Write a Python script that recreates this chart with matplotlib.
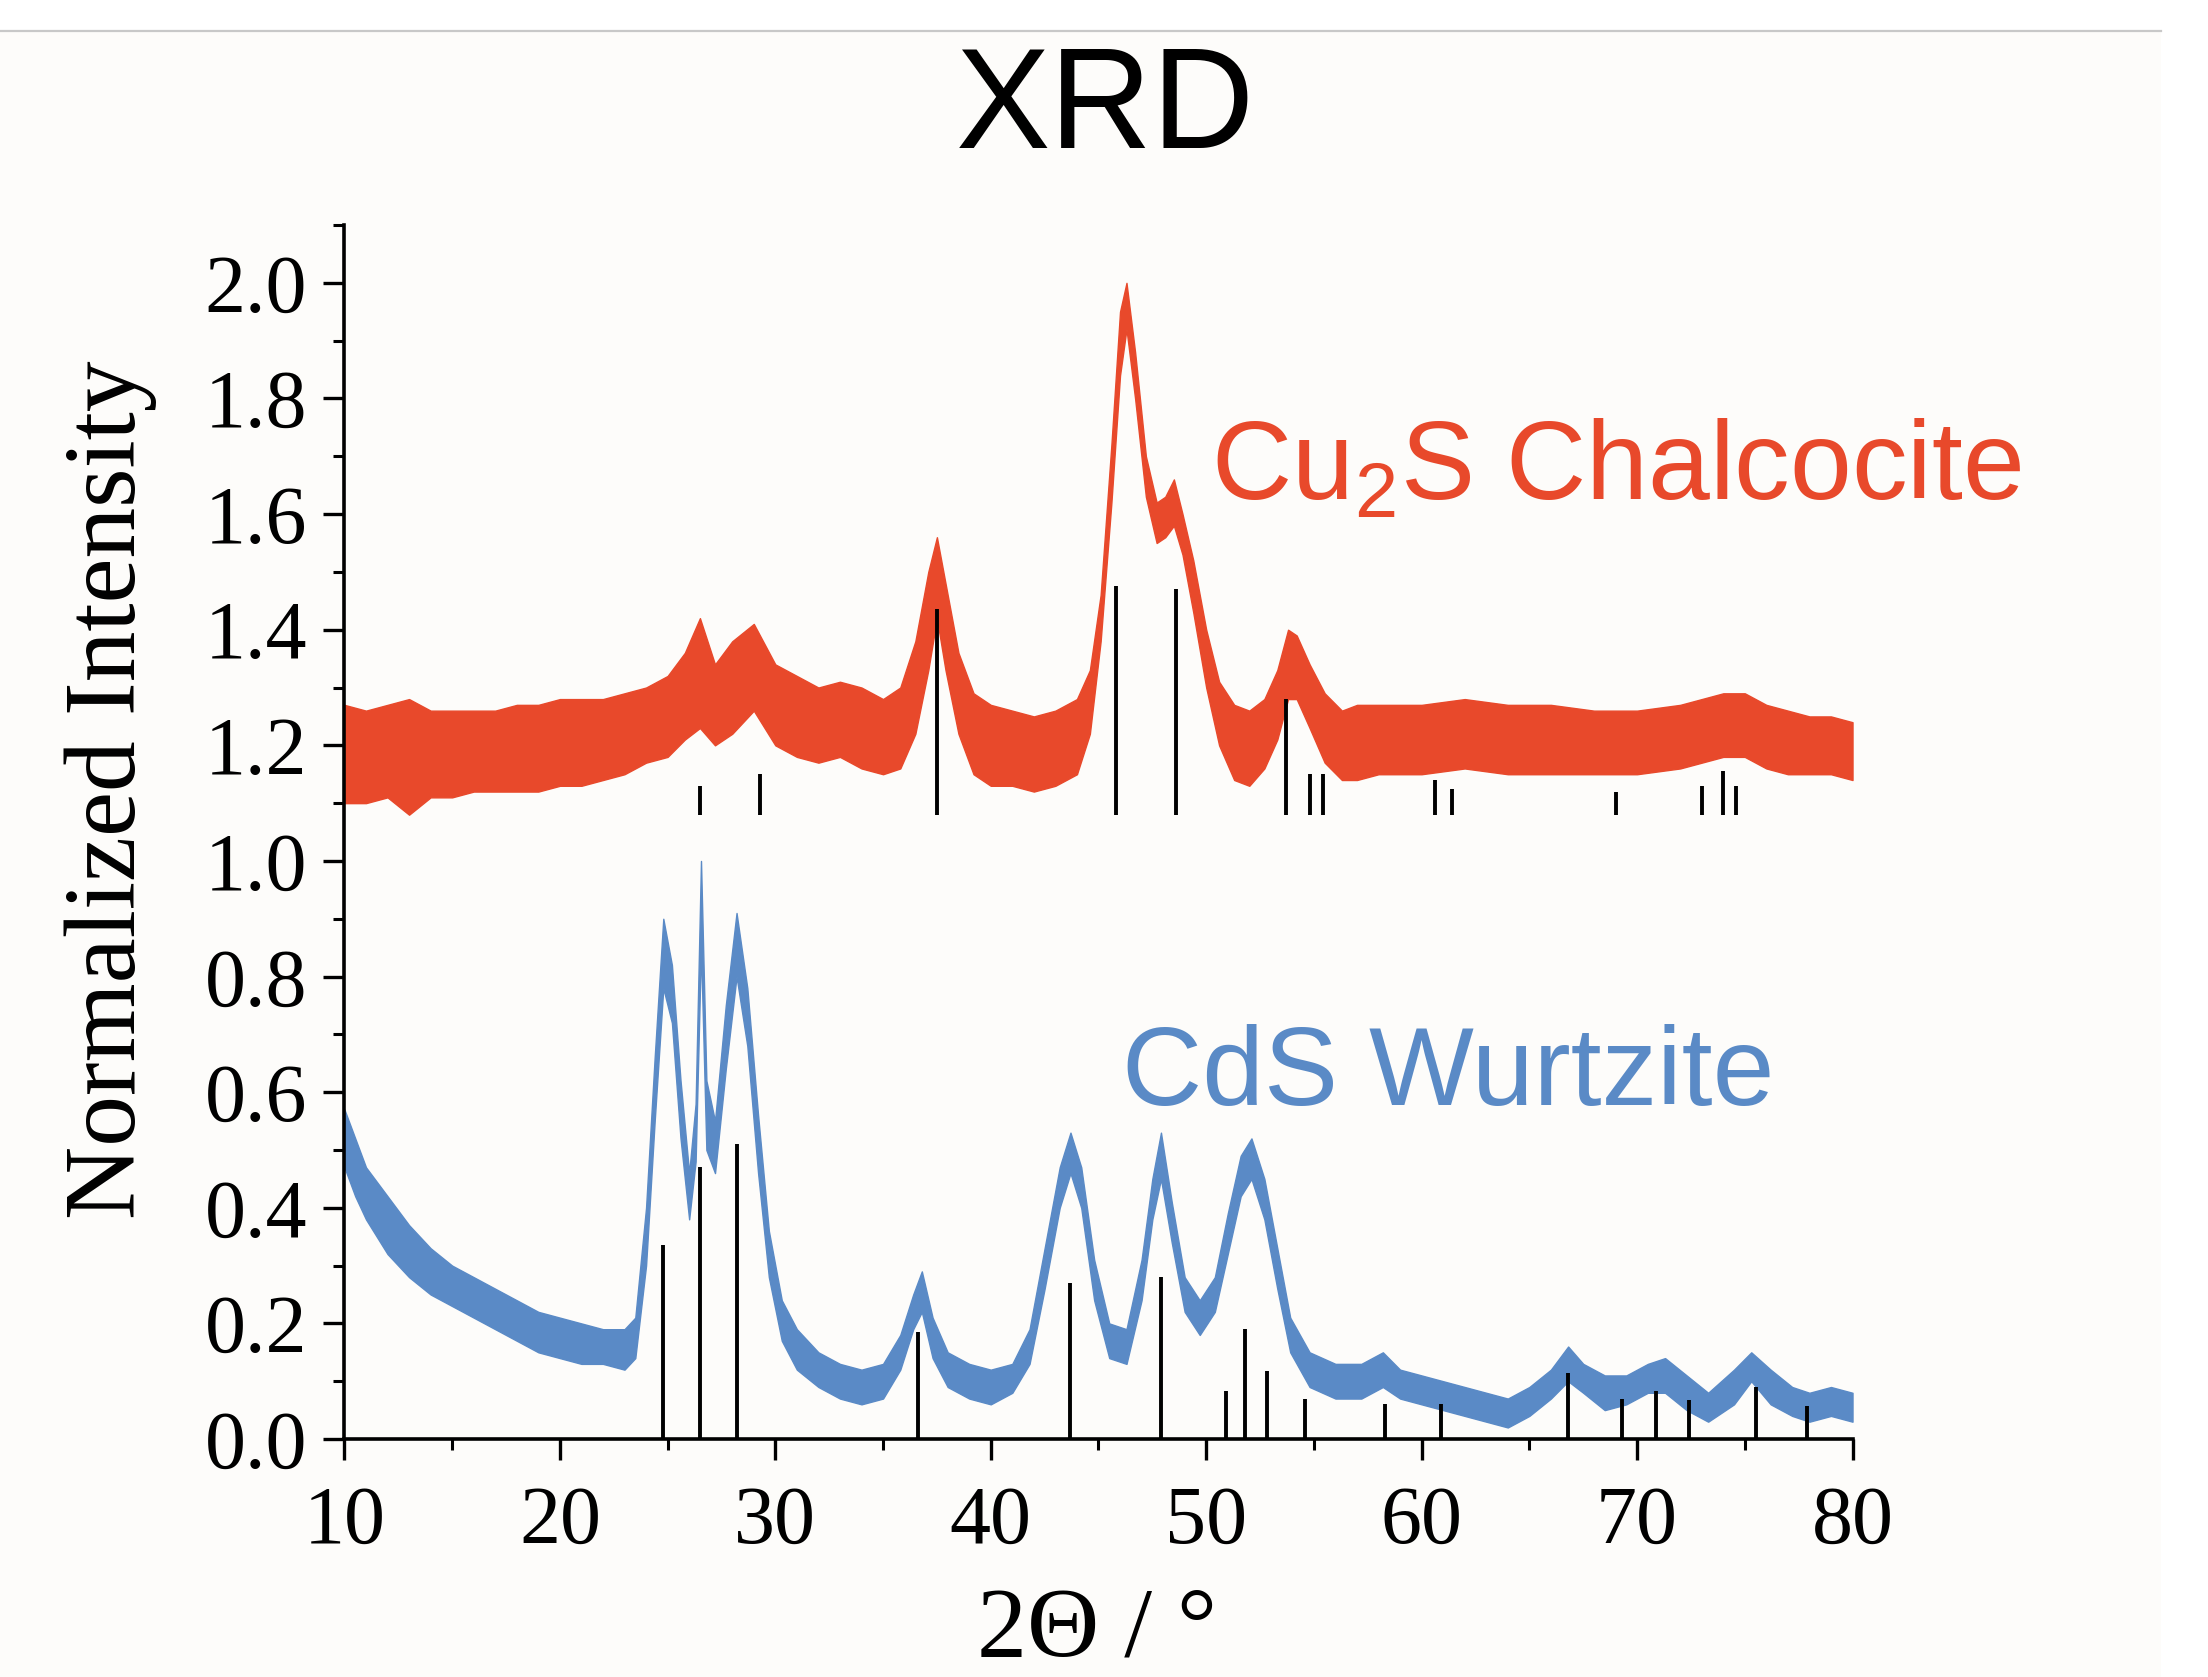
import matplotlib
matplotlib.use("Agg")
import matplotlib.pyplot as plt
from matplotlib.patches import Rectangle
from matplotlib.lines import Line2D
from matplotlib.ticker import MultipleLocator

# --- Cu2S chalcocite pattern (noise band: lower / upper edge) ---
cu2s_x = [10, 11, 12, 13, 14, 15, 16, 17, 18, 19, 20, 21, 22, 23, 24, 25, 25.8, 26.5,
          27.2, 28, 29, 30, 31, 32, 33, 34, 35, 35.8, 36.5, 37.1, 37.5, 37.9, 38.5, 39.2,
          40, 41, 42, 43, 44, 44.6, 45.1, 45.6, 46.0, 46.3, 46.7, 47.2, 47.7, 48.1, 48.5,
          48.9, 49.4, 50, 50.6, 51.3, 52, 52.7, 53.3, 53.8, 54.2, 54.8, 55.5, 56.3, 57,
          58, 60, 62, 64, 66, 68, 70, 72, 73, 74, 75, 76, 77, 78, 79, 80]
cu2s_lo = [1.10, 1.10, 1.11, 1.08, 1.11, 1.11, 1.12, 1.12, 1.12, 1.12, 1.13, 1.13, 1.14,
           1.15, 1.17, 1.18, 1.21, 1.23, 1.20, 1.22, 1.26, 1.20, 1.18, 1.17, 1.18, 1.16,
           1.15, 1.16, 1.22, 1.33, 1.42, 1.33, 1.22, 1.15, 1.13, 1.13, 1.12, 1.13, 1.15,
           1.22, 1.38, 1.62, 1.84, 1.92, 1.80, 1.63, 1.55, 1.56, 1.58, 1.53, 1.43, 1.30,
           1.20, 1.14, 1.13, 1.16, 1.21, 1.28, 1.28, 1.23, 1.17, 1.14, 1.14, 1.15, 1.15,
           1.16, 1.15, 1.15, 1.15, 1.15, 1.16, 1.17, 1.18, 1.18, 1.16, 1.15, 1.15, 1.15, 1.14]
cu2s_hi = [1.27, 1.26, 1.27, 1.28, 1.26, 1.26, 1.26, 1.26, 1.27, 1.27, 1.28, 1.28, 1.28,
           1.29, 1.30, 1.32, 1.36, 1.42, 1.34, 1.38, 1.41, 1.34, 1.32, 1.30, 1.31, 1.30,
           1.28, 1.30, 1.38, 1.50, 1.56, 1.48, 1.36, 1.29, 1.27, 1.26, 1.25, 1.26, 1.28,
           1.33, 1.46, 1.72, 1.95, 2.00, 1.88, 1.70, 1.62, 1.63, 1.66, 1.60, 1.52, 1.40,
           1.31, 1.27, 1.26, 1.28, 1.33, 1.40, 1.39, 1.34, 1.29, 1.26, 1.27, 1.27, 1.27,
           1.28, 1.27, 1.27, 1.26, 1.26, 1.27, 1.28, 1.29, 1.29, 1.27, 1.26, 1.25, 1.25, 1.24]

# --- CdS wurtzite pattern ---
cds_x = [10, 10.5, 11, 12, 13, 14, 15, 16, 17, 18, 19, 20, 21, 22, 23, 23.5, 24.0, 24.4,
         24.8, 25.2, 25.6, 26.0, 26.3, 26.55, 26.8, 27.2, 27.7, 28.2, 28.7, 29.2, 29.7,
         30.3, 31, 32, 33, 34, 35, 35.8, 36.4, 36.8, 37.3, 38, 39, 40, 41, 41.8, 42.5,
         43.2, 43.7, 44.2, 44.8, 45.5, 46.3, 47.0, 47.5, 47.9, 48.4, 49.0, 49.7, 50.4,
         51.0, 51.6, 52.1, 52.7, 53.3, 53.9, 54.8, 56, 57.2, 58.2, 59, 60, 61, 62, 63,
         64, 65, 66, 66.8, 67.5, 68.5, 69.5, 70.5, 71.3, 72.3, 73.3, 74.5, 75.3, 76.2,
         77.2, 78, 79, 80]
cds_lo = [0.47, 0.42, 0.38, 0.32, 0.28, 0.25, 0.23, 0.21, 0.19, 0.17, 0.15, 0.14, 0.13,
          0.13, 0.12, 0.14, 0.30, 0.55, 0.78, 0.72, 0.52, 0.38, 0.48, 0.85, 0.50, 0.46,
          0.64, 0.80, 0.68, 0.46, 0.28, 0.17, 0.12, 0.09, 0.07, 0.06, 0.07, 0.12, 0.19,
          0.22, 0.14, 0.09, 0.07, 0.06, 0.08, 0.13, 0.26, 0.40, 0.46, 0.40, 0.24, 0.14,
          0.13, 0.24, 0.38, 0.45, 0.34, 0.22, 0.18, 0.22, 0.32, 0.42, 0.45, 0.38, 0.26,
          0.15, 0.09, 0.07, 0.07, 0.09, 0.07, 0.06, 0.05, 0.04, 0.03, 0.02, 0.04, 0.07,
          0.10, 0.08, 0.05, 0.06, 0.08, 0.08, 0.05, 0.03, 0.06, 0.10, 0.06, 0.04, 0.03,
          0.04, 0.03]
cds_hi = [0.57, 0.52, 0.47, 0.42, 0.37, 0.33, 0.30, 0.28, 0.26, 0.24, 0.22, 0.21, 0.20,
          0.19, 0.19, 0.21, 0.40, 0.66, 0.90, 0.82, 0.62, 0.46, 0.58, 1.00, 0.62, 0.55,
          0.75, 0.91, 0.78, 0.56, 0.36, 0.24, 0.19, 0.15, 0.13, 0.12, 0.13, 0.18, 0.25,
          0.29, 0.21, 0.15, 0.13, 0.12, 0.13, 0.19, 0.33, 0.47, 0.53, 0.47, 0.31, 0.20,
          0.19, 0.31, 0.45, 0.53, 0.41, 0.28, 0.24, 0.28, 0.39, 0.49, 0.52, 0.45, 0.33,
          0.21, 0.15, 0.13, 0.13, 0.15, 0.12, 0.11, 0.10, 0.09, 0.08, 0.07, 0.09, 0.12,
          0.16, 0.13, 0.11, 0.11, 0.13, 0.14, 0.11, 0.08, 0.12, 0.15, 0.12, 0.09, 0.08,
          0.09, 0.08]

# --- reference stick patterns ---
cu2s_ref_pos = [26.5, 29.3, 37.5, 45.8, 48.6, 53.7, 54.8, 55.4, 60.6, 61.4, 69.0, 73.0, 74.0, 74.6]
cu2s_ref_top = [1.13, 1.15, 1.435, 1.475, 1.47, 1.28, 1.15, 1.15, 1.14, 1.125, 1.12, 1.13, 1.155, 1.13]
cu2s_ref_base = 1.08

cds_ref_pos = [24.8, 26.5, 28.2, 36.6, 43.7, 47.9, 50.9, 51.8, 52.8, 54.6, 58.3, 60.9,
               66.8, 69.3, 70.9, 72.4, 75.5, 77.9]
cds_ref_top = [0.336, 0.47, 0.51, 0.185, 0.27, 0.28, 0.083, 0.19, 0.117, 0.07, 0.06, 0.06,
               0.115, 0.07, 0.083, 0.068, 0.09, 0.058]

x_ticks = [10, 20, 30, 40, 50, 60, 70, 80]
y_ticks = [0.0, 0.2, 0.4, 0.6, 0.8, 1.0, 1.2, 1.4, 1.6, 1.8, 2.0]

RED = '#e8492b'
BLUE = '#5a8ac6'
SERIF = 'Liberation Serif'
SANS = 'Liberation Sans'

plt.rcParams['mathtext.fontset'] = 'custom'
plt.rcParams['mathtext.rm'] = SANS

fig = plt.figure(figsize=(22.08, 16.77), dpi=100)
fig.patch.set_facecolor('white')
# screenshot frame: off-white page with a grey rule on top
fig.patches.append(Rectangle((0, 0), 2161 / 2208, 1 - 32 / 1677, transform=fig.transFigure,
                             facecolor='#fdfcfa', edgecolor='none', zorder=-10))
fig.lines.append(Line2D([0, 2161 / 2208], [1 - 31 / 1677] * 2, transform=fig.transFigure,
                        color='#c8c8c8', lw=1.6))

ax = fig.add_axes([0.156, 0.1419, 0.683, 0.7239])
ax.set_facecolor('none')

ax.fill_between(cu2s_x, cu2s_lo, cu2s_hi, color=RED, lw=1.0, zorder=2)
ax.fill_between(cds_x, cds_lo, cds_hi, color=BLUE, lw=1.0, zorder=2)

ax.vlines(cu2s_ref_pos, cu2s_ref_base, cu2s_ref_top, color='black', lw=2.8, zorder=3)
ax.vlines(cds_ref_pos, 0, cds_ref_top, color='black', lw=2.8, zorder=3)

ax.set_xlim(10, 80)
ax.set_ylim(0, 2.1)
ax.set_xticks(x_ticks)
ax.set_yticks(y_ticks)
ax.set_yticklabels([f'{v:.1f}' for v in y_ticks])
ax.xaxis.set_minor_locator(MultipleLocator(5))
ax.yaxis.set_minor_locator(MultipleLocator(0.1))

for side in ['top', 'right']:
    ax.spines[side].set_visible(False)
for side in ['left', 'bottom']:
    ax.spines[side].set_linewidth(2.6)

ax.tick_params(which='major', direction='out', length=15, width=2.4, pad=12)
ax.tick_params(which='minor', direction='out', length=8, width=2.2)
ax.tick_params(axis='x', which='major', pad=18)
for lab in ax.get_xticklabels() + ax.get_yticklabels():
    lab.set_fontfamily(SERIF)
    lab.set_fontsize(59)

ax.text(50.2, 1.625, 'Cu$_\\mathregular{2}$S Chalcocite', color=RED, fontsize=80,
        family=SANS, va='baseline', ha='left')
ax.text(46.07, 0.578, 'CdS Wurtzite', color=BLUE, fontsize=80,
        family=SANS, va='baseline', ha='left')

fig.text(0.5005, 0.912, 'XRD', fontsize=102, family=SANS, ha='center', va='baseline')
fig.text(0.05, 0.529, 'Normalized Intensity', fontsize=73, family=SERIF,
         rotation=90, ha='center', va='center')
fig.text(0.497, 0.013, '2\u0398 / \u00b0', fontsize=72, family=SERIF,
         ha='center', va='baseline')

fig.savefig('out.png', dpi=100, facecolor=fig.get_facecolor())
